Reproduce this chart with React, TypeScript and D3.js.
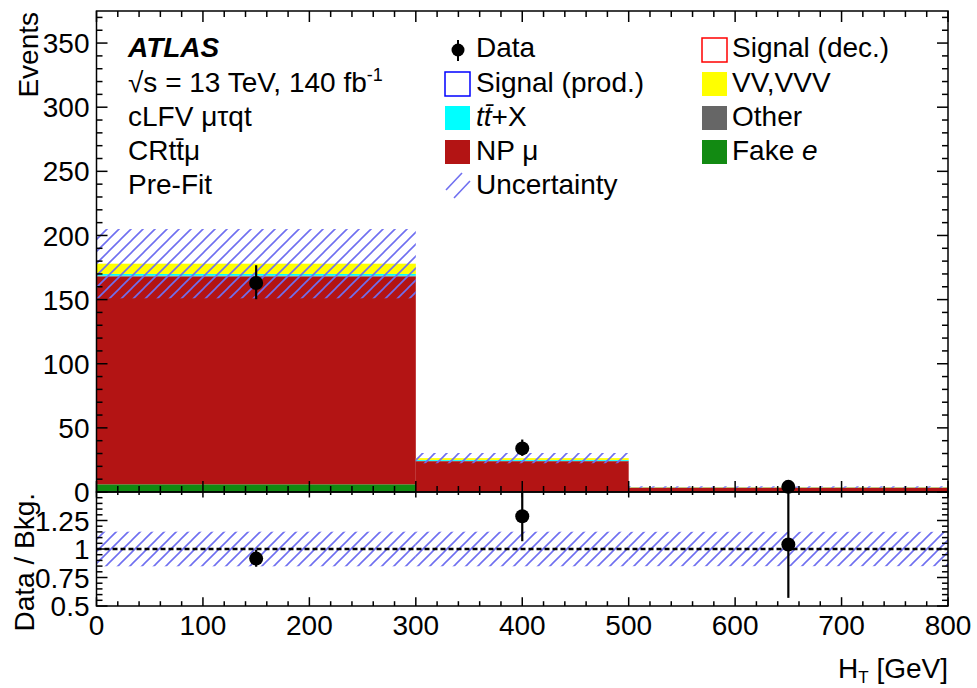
import React from "react";
import * as d3 from "d3";

const binEdges = [0, 300, 500, 800];
const fakeE = [6, 0.2, 0.1];
const npMu = [162, 23.8, 3.3];
const other = [0.7, 0.3, 0.1];
const ttX = [1.3, 0.7, 0.15];
const vv = [8, 1.4, 0.2];
const dataVals = [163, 34, 4];
const dataErrLo = [12.7, 5.8, 1.8];
const dataErrHi = [13.8, 6.9, 3.2];
const bkgUnc = [27, 4.0, 0.58];

const xTicks = [0, 100, 200, 300, 400, 500, 600, 700, 800];
const yTicks = [0, 50, 100, 150, 200, 250, 300, 350];
const rTicks = [0.5, 0.75, 1, 1.25];

const keys = ["fakeE", "npMu", "other", "ttX", "vv"];
const colors: Record<string, string> = {
  fakeE: "#128a12",
  npMu: "#b31414",
  other: "#666666",
  ttX: "#00ffff",
  vv: "#ffff00",
};

const FONT = "'Liberation Sans', Arial, Helvetica, sans-serif";

export default function App() {
  const W = 977, H = 688;
  const L = 96.5, R = 948, T = 11, M = 492, B = 606;
  const x = d3.scaleLinear().domain([0, 800]).range([L, R]);
  const y = d3.scaleLinear().domain([0, 375]).range([M, T]);
  const yr = d3.scaleLinear().domain([0.5, 1.5]).range([B, M]);

  const rows = binEdges.slice(0, -1).map((e, i) => ({
    lo: e, hi: binEdges[i + 1],
    fakeE: fakeE[i], npMu: npMu[i], other: other[i], ttX: ttX[i], vv: vv[i],
  }));
  const stacked = d3.stack<any>().keys(keys)(rows);
  const totals = rows.map((r) => keys.reduce((s, k) => s + (r as any)[k], 0));

  const fs = 28;
  const xMinor = d3.range(0, 801, 20);
  const yMinor = d3.range(0, 375, 10);
  const rMinor = d3.range(0.5, 1.5001, 0.05);
  const maj = 11, mnr = 6;

  const ticks: JSX.Element[] = [];
  xMinor.forEach((v, i) => {
    const isMaj = v % 100 === 0;
    const len = isMaj ? maj : mnr;
    const px = x(v);
    ticks.push(<line key={"xm" + i} x1={px} x2={px} y1={M} y2={M - len} />);
    ticks.push(<line key={"xt" + i} x1={px} x2={px} y1={T} y2={T + len} />);
    ticks.push(<line key={"xr" + i} x1={px} x2={px} y1={B} y2={B - len * 0.8} />);
    ticks.push(<line key={"xrt" + i} x1={px} x2={px} y1={M} y2={M + len * 0.5} />);
  });
  yMinor.forEach((v, i) => {
    const isMaj = v % 50 === 0;
    const len = isMaj ? maj : mnr;
    const py = y(v);
    ticks.push(<line key={"yl" + i} x1={L} x2={L + len} y1={py} y2={py} />);
    ticks.push(<line key={"yr" + i} x1={R} x2={R - len} y1={py} y2={py} />);
  });
  rMinor.forEach((v, i) => {
    const isMaj = Math.abs((v - 0.5) / 0.25 - Math.round((v - 0.5) / 0.25)) < 1e-6;
    const len = isMaj ? maj : mnr;
    const py = yr(v);
    ticks.push(<line key={"rl" + i} x1={L} x2={L + len} y1={py} y2={py} />);
    ticks.push(<line key={"rr" + i} x1={R} x2={R - len} y1={py} y2={py} />);
  });

  const hatchColor = "#6f6ff0";

  return (
    <svg width={W} height={H} style={{ position: "absolute", left: 0, top: 0, background: "#fff" }} fontFamily={FONT}>
      <defs>
        <pattern id="hatch" patternUnits="userSpaceOnUse" width={12} height={12}>
          <path d="M0,12 L12,0 M-3,3 L3,-3 M9,15 L15,9" stroke={hatchColor} strokeWidth={1.6} />
        </pattern>
        <clipPath id="clipMain"><rect x={L} y={T} width={R - L} height={M - T} /></clipPath>
        <clipPath id="clipRatio"><rect x={L} y={M} width={R - L} height={B - M} /></clipPath>
      </defs>
      <rect x={0} y={0} width={W} height={H} fill="#fff" />

      <g clipPath="url(#clipMain)">
        {stacked.map((layer) =>
          layer.map((d, i) => (
            <rect key={layer.key + i} x={x(rows[i].lo)} width={x(rows[i].hi) - x(rows[i].lo)}
              y={y(d[1])} height={Math.max(0, y(d[0]) - y(d[1]))} fill={colors[layer.key]} />
          ))
        )}
        {rows.map((r, i) => (
          <rect key={"unc" + i} x={x(r.lo)} width={x(r.hi) - x(r.lo)}
            y={y(totals[i] + bkgUnc[i])} height={y(totals[i] - bkgUnc[i]) - y(totals[i] + bkgUnc[i])}
            fill="url(#hatch)" />
        ))}
      </g>
      {rows.map((r, i) => {
        const cx = x((r.lo + r.hi) / 2);
        return (
          <g key={"d" + i}>
            <line x1={cx} x2={cx} y1={y(dataVals[i] - dataErrLo[i])} y2={y(dataVals[i] + dataErrHi[i])} stroke="#000" strokeWidth={2.2} />
            <circle cx={cx} cy={y(dataVals[i])} r={7} fill="#000" />
          </g>
        );
      })}

      <g clipPath="url(#clipRatio)">
        {rows.map((r, i) => {
          const u = bkgUnc[i] / totals[i];
          return (
            <rect key={"ru" + i} x={x(r.lo)} width={x(r.hi) - x(r.lo)} y={yr(1 + u)} height={yr(1 - u) - yr(1 + u)} fill="url(#hatch)" />
          );
        })}
        <line x1={L} x2={R} y1={yr(1)} y2={yr(1)} stroke="#000" strokeWidth={2.5} strokeDasharray="5,3" />
        {rows.map((r, i) => {
          const cx = x((r.lo + r.hi) / 2);
          const rv = dataVals[i] / totals[i];
          return (
            <g key={"rd" + i}>
              <line x1={cx} x2={cx} y1={yr((dataVals[i] - dataErrLo[i]) / totals[i])} y2={yr((dataVals[i] + dataErrHi[i]) / totals[i])} stroke="#000" strokeWidth={2.2} />
              <circle cx={cx} cy={yr(rv)} r={7} fill="#000" />
            </g>
          );
        })}
      </g>

      <g stroke="#000" strokeWidth={1.5} fill="none">
        <rect x={L} y={T} width={R - L} height={M - T} />
        <rect x={L} y={M} width={R - L} height={B - M} />
        {ticks}
      </g>

      <g fontSize={fs} fill="#000">
        {yTicks.map((v) => (
          <text key={"yl" + v} x={L - 7} y={y(v)} dy="0.36em" textAnchor="end">{v}</text>
        ))}
        {rTicks.map((v) => (
          <text key={"rl" + v} x={L - 7} y={yr(v)} dy="0.36em" textAnchor="end">{String(v)}</text>
        ))}
        {xTicks.map((v) => (
          <text key={"xl" + v} x={x(v)} y={635} textAnchor="middle">{v}</text>
        ))}
        <text x={R} y={678} textAnchor="end">H<tspan fontSize={17} dy={5}>T</tspan><tspan dy={-5}> [GeV]</tspan></text>
        <text transform={`translate(38,${T + 1}) rotate(-90)`} textAnchor="end">Events</text>
        <text transform={`translate(34,${M + 1}) rotate(-90)`} textAnchor="end">Data / Bkg.</text>
      </g>

      <g fontSize={fs} fill="#000">
        <text x={128} y={57} fontWeight="bold" fontStyle="italic" fontSize={28}>ATLAS</text>
        <text x={128} y={92}>√s = 13 TeV, 140 fb<tspan fontSize={18} dy={-11}>-1</tspan></text>
        <text x={128} y={126}>cLFV μτqt</text>
        <text x={128} y={160}>CRtt̄μ</text>
        <text x={128} y={194}>Pre-Fit</text>
      </g>

      <g fontSize={fs} fill="#000">
        <line x1={458} x2={458} y1={40} y2={61} stroke="#000" strokeWidth={2} />
        <circle cx={458} cy={50} r={6.5} fill="#000" />
        <text x={476} y={57}>Data</text>

        <rect x={445} y={72} width={25} height={24} fill="none" stroke="#0000ff" strokeWidth={1.5} />
        <text x={476} y={92}>Signal (prod.)</text>

        <rect x={445} y={106} width={25} height={24} fill={colors.ttX} />
        <text x={476} y={126}><tspan fontStyle="italic">tt̄</tspan>+X</text>

        <rect x={445} y={140} width={25} height={24} fill={colors.npMu} />
        <text x={476} y={160}>NP μ</text>

        <line x1={446} y1={190} x2={462} y2={173} stroke={hatchColor} strokeWidth={1.6} />
        <line x1={454} y1={198} x2={470} y2={181} stroke={hatchColor} strokeWidth={1.6} />
        <text x={476} y={194}>Uncertainty</text>

        <rect x={702} y={38} width={25} height={24} fill="none" stroke="#ff0000" strokeWidth={1.5} />
        <text x={732} y={57}>Signal (dec.)</text>

        <rect x={702} y={72} width={25} height={24} fill={colors.vv} />
        <text x={732} y={92}>VV,VVV</text>

        <rect x={702} y={106} width={25} height={24} fill={colors.other} />
        <text x={732} y={126}>Other</text>

        <rect x={702} y={140} width={25} height={24} fill={colors.fakeE} />
        <text x={732} y={160}>Fake <tspan fontStyle="italic">e</tspan></text>
      </g>
    </svg>
  );
}
